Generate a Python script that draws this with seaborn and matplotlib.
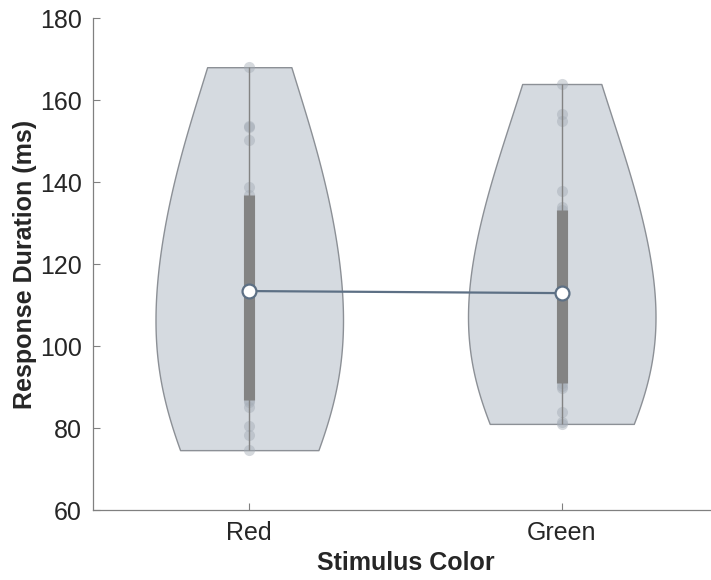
import numpy as np
import pandas as pd
import seaborn as sns
import matplotlib.pyplot as plt

# values (ms)
categories = ["Red", "Green"]
red_values = [74.6, 78.3, 80.5, 85.2, 86.3, 86.8, 89.5, 93.0, 97.0, 102.0, 113.4,
              116.0, 120.0, 126.0, 132.0, 136.8, 138.9, 150.3, 153.3, 153.7, 168.0]
green_values = [81.0, 81.5, 84.0, 89.8, 90.3, 91.0, 92.5, 95.0, 98.0, 103.0, 112.9,
                116.0, 121.0, 126.0, 130.0, 133.2, 134.0, 137.9, 154.8, 156.7, 163.9]
y_ticks = [60, 80, 100, 120, 140, 160, 180]

violin_face = "#d5dae0"
violin_edge = "#8c9096"
box_color = "#838383"
median_line = "#5d7085"

df = pd.DataFrame({
    "Stimulus Color": ["Red"] * len(red_values) + ["Green"] * len(green_values),
    "Response Duration (ms)": red_values + green_values,
})

sns.set_style("ticks")
plt.rcParams["font.family"] = ["Liberation Sans", "DejaVu Sans"]

fig = plt.figure(figsize=(7.11, 5.8), dpi=100)
ax = fig.add_axes([93 / 711, 70 / 580, (718 - 93) / 711, 492 / 580])

sns.violinplot(data=df, x="Stimulus Color", y="Response Duration (ms)", order=categories,
               cut=0, inner=None, density_norm="width", width=0.6, bw_adjust=1.8,
               color=violin_face, saturation=1, linecolor=violin_edge, linewidth=1.0, ax=ax)
for coll in ax.collections:
    coll.set_facecolor(violin_face)
    coll.set_edgecolor(violin_edge)

sns.stripplot(data=df, x="Stimulus Color", y="Response Duration (ms)", order=categories,
              jitter=False, color="#a3abb5", alpha=0.45, size=8, linewidth=0, ax=ax, zorder=3)

# whiskers and box from the data
for i, cat in enumerate(categories):
    vals = df.loc[df["Stimulus Color"] == cat, "Response Duration (ms)"].to_numpy()
    q1, q3 = np.percentile(vals, [25, 75])
    ax.vlines(i, vals.min(), vals.max(), color=box_color, linewidth=1.0, zorder=4)
    ax.vlines(i, q1, q3, color=box_color, linewidth=8, zorder=5)

sns.pointplot(data=df, x="Stimulus Color", y="Response Duration (ms)", order=categories,
              estimator="median", errorbar=None, color=median_line, markers="o",
              linewidth=1.6, markersize=10, markerfacecolor="white",
              markeredgecolor=median_line, markeredgewidth=1.6, ax=ax)
for line in ax.lines:
    line.set_zorder(6)

ax.set_xlim(-0.5, 1.5)
ax.set_ylim(60, 180)
ax.set_yticks(y_ticks)
ax.set_xlabel("Stimulus Color", fontsize=18, fontweight="bold", color="#262626", labelpad=4)
ax.set_ylabel("Response Duration (ms)", fontsize=18, fontweight="bold", color="#262626", labelpad=2)
ax.tick_params(direction="in", length=5, width=0.8, color="#808080", labelsize=18,
               labelcolor="#262626", pad=8)
sns.despine(ax=ax)
for side in ["left", "bottom"]:
    ax.spines[side].set_color("#808080")
    ax.spines[side].set_linewidth(0.9)

fig.savefig("out.png", dpi=100)
